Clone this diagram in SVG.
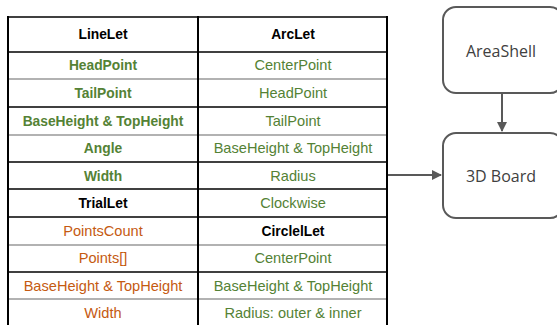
<svg xmlns="http://www.w3.org/2000/svg" width="557" height="325" viewBox="0 0 557 325">
<style>
.t{font-family:"Liberation Sans",Arial,sans-serif;font-size:14.6px;text-anchor:middle}
.h{fill:#000;font-weight:bold;font-size:13.8px}
.b{font-weight:bold;font-size:13.8px}
.g{fill:#548235}
.o{fill:#C55A11}
.k{stroke:#000;stroke-width:1.6}
.l{stroke:#666;stroke-width:1.2}
.v{stroke:#000;stroke-width:2}
.box{fill:#fff;stroke:#595959;stroke-width:2}
.bt{font-family:"Open Sans","Liberation Sans",sans-serif;font-size:16px;fill:#404040;text-anchor:middle}
.c{stroke:#595959;stroke-width:2;fill:none}
</style>
<defs>
<marker id="ah" viewBox="0 0 10 10" refX="9" refY="5" markerWidth="5" markerHeight="5" orient="auto" markerUnits="strokeWidth">
<path d="M0,0 L10,5 L0,10 z" fill="#595959"/>
</marker>
</defs>
<rect width="557" height="325" fill="#fff"/>
<g id="table">
<line class="k" x1="8" y1="17" x2="387" y2="17"/>
<line class="k" x1="8" y1="52" x2="387" y2="52"/>
<line class="l" x1="8" y1="79" x2="387" y2="79"/>
<line class="k" x1="8" y1="107" x2="387" y2="107"/>
<line class="l" x1="8" y1="135" x2="387" y2="135"/>
<line class="k" x1="8" y1="162" x2="387" y2="162"/>
<line class="k" x1="8" y1="189" x2="387" y2="189"/>
<line class="k" x1="8" y1="217" x2="387" y2="217"/>
<line class="l" x1="8" y1="245" x2="387" y2="245"/>
<line class="k" x1="8" y1="272" x2="387" y2="272"/>
<line class="l" x1="8" y1="299" x2="387" y2="299"/>
<line class="v" x1="8" y1="16" x2="8" y2="325"/>
<line class="v" x1="198" y1="16" x2="198" y2="325"/>
<line class="v" x1="387" y1="16" x2="387" y2="325"/>
<text class="t h" x="103" y="39">LineLet</text>
<text class="t g b" x="103" y="70">HeadPoint</text>
<text class="t g b" x="103" y="98">TailPoint</text>
<text class="t g b" x="103" y="126">BaseHeight &amp; TopHeight</text>
<text class="t g b" x="103" y="153">Angle</text>
<text class="t g b" x="103" y="181">Width</text>
<text class="t h" x="103" y="208">TrialLet</text>
<text class="t o" x="103" y="236">PointsCount</text>
<text class="t o" x="103" y="263">Points[]</text>
<text class="t o" x="103" y="291">BaseHeight &amp; TopHeight</text>
<text class="t o" x="103" y="318">Width</text>
<text class="t h" x="293" y="39">ArcLet</text>
<text class="t g" x="293" y="70">CenterPoint</text>
<text class="t g" x="293" y="98">HeadPoint</text>
<text class="t g" x="293" y="126">TailPoint</text>
<text class="t g" x="293" y="153">BaseHeight &amp; TopHeight</text>
<text class="t g" x="293" y="181">Radius</text>
<text class="t g" x="293" y="208">Clockwise</text>
<text class="t h" x="293" y="236">CirclelLet</text>
<text class="t g" x="293" y="263">CenterPoint</text>
<text class="t g" x="293" y="291">BaseHeight &amp; TopHeight</text>
<text class="t g" x="293" y="318">Radius: outer &amp; inner</text>
</g>
<g id="areashell">
<rect class="box" x="443" y="7" width="120" height="86" rx="13"/>
<text class="bt" x="501" y="57">AreaShell</text>
</g>
<g id="board">
<rect class="box" x="443" y="133" width="120" height="85" rx="13"/>
<text class="bt" x="501" y="182">3D Board</text>
</g>
<g id="connectors">
<line class="c" x1="502" y1="94" x2="502" y2="131" marker-end="url(#ah)"/>
<line class="c" x1="388" y1="175" x2="441" y2="175" marker-end="url(#ah)"/>
</g>
</svg>
